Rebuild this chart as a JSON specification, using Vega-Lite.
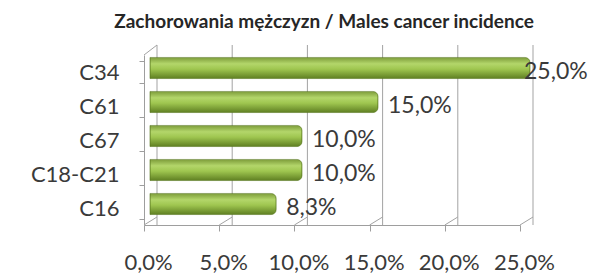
{
  "$schema": "https://vega.github.io/schema/vega-lite/v6.json",
  "width": 376,
  "height": 170,
  "autosize": {"type": "none"},
  "padding": {"left": 144, "top": 55, "right": 75, "bottom": 55},
  "background": "white",
  "title": {
    "text": "Zachorowania mężczyzn / Males cancer incidence",
    "font": "Lato",
    "fontSize": 19,
    "fontWeight": "bold",
    "color": "#262626",
    "anchor": "middle",
    "dx": -8,
    "offset": 12
  },
  "datasets": {
    "bars": [
      {"code": "C34", "share": 0.25, "label": "25,0%"},
      {"code": "C61", "share": 0.15, "label": "15,0%"},
      {"code": "C67", "share": 0.10, "label": "10,0%"},
      {"code": "C18-C21", "share": 0.10, "label": "10,0%"},
      {"code": "C16", "share": 0.083, "label": "8,3%"}
    ],
    "grid": [{"g": 0}, {"g": 0.05}, {"g": 0.1}, {"g": 0.15}, {"g": 0.2}, {"g": 0.25}]
  },
  "config": {
    "view": {"stroke": null},
    "axis": {"labelFont": "Lato", "labelColor": "#3a3a3a", "domainColor": "#9e9e9e", "tickColor": "#9e9e9e", "grid": false, "title": null}
  },
  "resolve": {"scale": {"x": "independent"}, "axis": {"x": "independent"}},
  "layer": [
    {
      "data": {"name": "grid"},
      "layer": [
        {
          "mark": {"type": "rule", "xOffset": 13, "yOffset": -10, "y2Offset": -8, "color": "#a3a3a3", "strokeWidth": 1},
          "encoding": {
            "x": {
              "field": "g", "type": "quantitative",
              "scale": {"domain": [0, 0.25], "nice": false},
              "axis": {
                "values": [0, 0.05, 0.1, 0.15, 0.2, 0.25],
                "labelExpr": "replace(format(datum.value, '.1%'), '.', ',')",
                "labelFontSize": 22,
                "labelPadding": 21,
                "labelOverlap": false,
                "labelFlush": false,
                "labelOffset": 4,
                "tickSize": 6
              }
            }
          }
        },
        {
          "mark": {"type": "rule", "x2Offset": 13, "y2Offset": -8, "color": "#a3a3a3", "strokeWidth": 1},
          "encoding": {
            "x": {"field": "g", "type": "quantitative"},
            "x2": {"field": "g"},
            "y": {"value": "height"},
            "y2": {"value": "height"}
          }
        },
        {
          "transform": [{"filter": "datum.g == 0"}],
          "mark": {"type": "rule", "x2Offset": 13, "y2Offset": -10, "color": "#a3a3a3", "strokeWidth": 1},
          "encoding": {
            "x": {"field": "g", "type": "quantitative"},
            "x2": {"field": "g"},
            "y": {"value": 0},
            "y2": {"value": 0}
          }
        }
      ]
    },
    {
      "data": {"name": "bars"},
      "layer": [
        {
          "mark": {
            "type": "bar",
            "yOffset": -4,
            "y2Offset": -4,
            "cornerRadiusEnd": 5,
            "stroke": "#5b7a20",
            "strokeWidth": 0.6,
            "color": {
              "gradient": "linear",
              "x1": 0, "y1": 0, "x2": 0, "y2": 1,
              "stops": [
                {"offset": 0, "color": "#7d9c3a"},
                {"offset": 0.3, "color": "#b3d66a"},
                {"offset": 0.55, "color": "#9fc650"},
                {"offset": 1, "color": "#5f7f22"}
              ]
            }
          },
          "encoding": {
            "y": {
              "field": "code", "type": "nominal", "sort": null,
              "scale": {"paddingInner": 0.38, "paddingOuter": 0.19, "align": 0.5},
              "axis": {"labelFontSize": 22, "labelPadding": 20, "tickSize": 5, "tickBand": "extent"}
            },
            "x": {
              "field": "share", "type": "quantitative",
              "scale": {"domain": [-0.003947, 0.24342], "nice": false, "zero": false},
              "axis": null
            }
          }
        },
        {
          "transform": [{"filter": "datum.share < 0.25"}],
          "mark": {"type": "text", "align": "left", "baseline": "middle", "dx": 10, "font": "Lato", "fontSize": 23, "color": "#3a3a3a"},
          "encoding": {
            "y": {"field": "code", "type": "nominal", "sort": null},
            "x": {"field": "share", "type": "quantitative"},
            "text": {"field": "label"}
          }
        },
        {
          "transform": [{"filter": "datum.share >= 0.25"}],
          "mark": {"type": "text", "align": "left", "baseline": "middle", "dx": -6, "font": "Lato", "fontSize": 23, "color": "#3a3a3a"},
          "encoding": {
            "y": {"field": "code", "type": "nominal", "sort": null},
            "x": {"field": "share", "type": "quantitative"},
            "text": {"field": "label"}
          }
        }
      ]
    }
  ]
}
